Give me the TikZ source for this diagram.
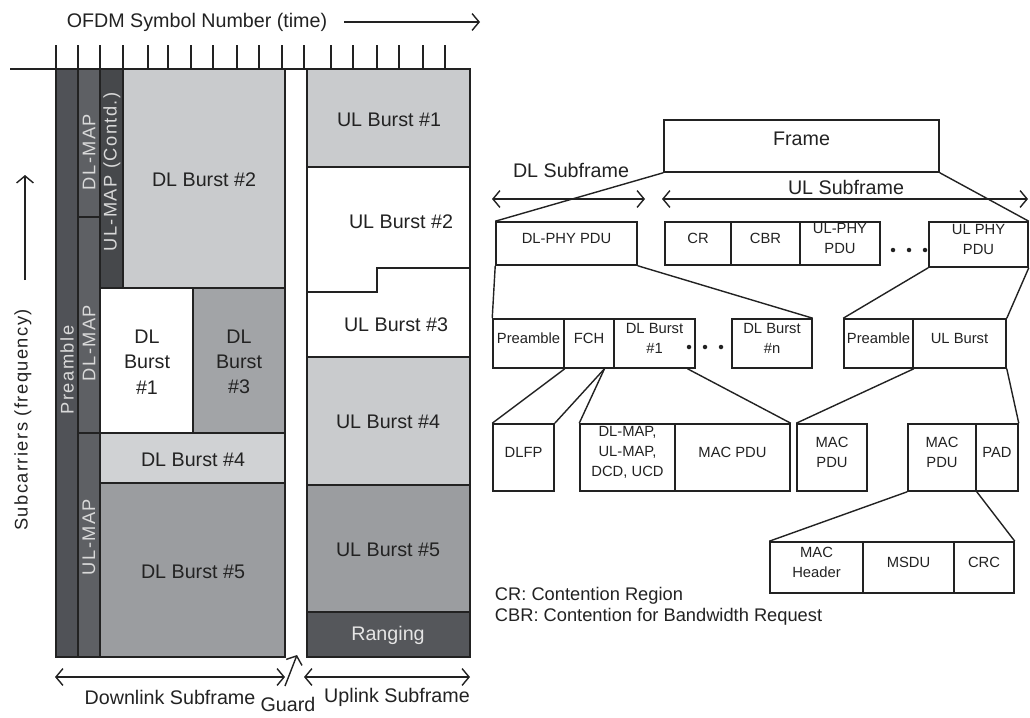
\documentclass[tikz,border=0pt]{standalone}
\usepackage{fontspec}
\setmainfont{Liberation Sans}
\newfontfamily\spacedfont{Liberation Sans}[LetterSpace=8]
\usepackage{tikz}
\usetikzlibrary{arrows.meta,positioning,fit,calc}

\definecolor{inkc}{HTML}{222222}
\definecolor{preamblec}{HTML}{505257}
\definecolor{dlmapc}{HTML}{5E6064}
\definecolor{contdc}{HTML}{46484B}
\definecolor{lightc}{HTML}{C9CBCD}
\definecolor{paler}{HTML}{D0D2D4}
\definecolor{midc}{HTML}{A2A4A7}
\definecolor{darkmidc}{HTML}{9B9DA0}
\definecolor{rangec}{HTML}{55575B}

\tikzset{
  lbl/.style={font=\fontsize{14}{18}\selectfont, text=inkc, align=center},
  collbl/.style={rotate=90, font=\spacedfont\fontsize{13}{15}\selectfont, text=white!85!black},
  pdu/.style={draw=inkc, line width=1.1pt, inner sep=0pt, align=center, text=inkc,
    font=\fontsize{10.5}{14}\selectfont},
  zone/.style={draw=inkc, line width=1.3pt},
  link/.style={draw=inkc, line width=1pt},
  arr/.style={link, -{Straight Barb[length=5pt,width=12pt]}},
  darr/.style={link, {Straight Barb[length=5pt,width=12pt]}-{Straight Barb[length=5pt,width=12pt]}},
}

\begin{document}
\begin{tikzpicture}[x=0.025cm, y=-0.025cm]
    \useasboundingbox (0,0) rectangle (1030,717);

    % time axis
    \node[lbl] (ofdm) at (197,22) {OFDM Symbol Number (time)};
    \coordinate (tend) at (480,22);
    \draw[arr] (ofdm.east) ++(12,0) -- (tend);
    \draw[zone] (10,69) -- (470,69);
    \foreach \x in {56,78,100,123,148,168,191,213,237,259,282,304,331,353,377,399,423,445}
        \draw[zone] (\x,45) -- (\x,69);

    % frequency axis
    \node[lbl, rotate=90, font=\spacedfont\fontsize{13}{15}\selectfont] (freq) at (23,420) {Subcarriers (frequency)};
    \coordinate (fbot) at (25,280);
    \coordinate (ftop) at (25,175);
    \draw[arr] (fbot) -- (ftop);

    % downlink subframe
    \draw[zone, fill=preamblec] (56,69) rectangle (78,657);
    \draw[zone, fill=dlmapc] (78,69) rectangle (100,217);
    \draw[zone, fill=dlmapc] (78,217) rectangle (100,433);
    \draw[zone, fill=dlmapc] (78,433) rectangle (100,657);
    \draw[zone, fill=contdc] (100,69) rectangle (123,288);
    \draw[zone, fill=lightc] (123,69) rectangle (285,288);
    \draw[zone, fill=white] (100,288) rectangle (193,433);
    \draw[zone, fill=midc] (193,288) rectangle (285,433);
    \draw[zone, fill=paler] (100,433) rectangle (285,483);
    \draw[zone, fill=darkmidc] (100,483) rectangle (285,657);

    \node[collbl] (pre) at (67,370) {Preamble};
    \node[collbl] (dlmapa) at (89,152) {DL-MAP};
    \node[collbl] (dlmapb) at (89,343) {DL-MAP};
    \node[collbl] (ulmap) at (89,537) {UL-MAP};
    \node[collbl] (ulmapc) at (112,172) {UL-MAP (Contd.)};
    \node[lbl] (dlb2) at (204,180) {DL Burst \#2};
    \node[lbl] (dlb1) at (147,362) {DL\\Burst\\\#1};
    \node[lbl] (dlb3) at (239,362) {DL\\Burst\\\#3};
    \node[lbl] (dlb4) at (193,460) {DL Burst \#4};
    \node[lbl] (dlb5) at (193,572) {DL Burst \#5};

    % uplink subframe
    \draw[zone, fill=white] (307,69) rectangle (470,657);
    \draw[zone, fill=lightc] (307,69) rectangle (470,167);
    \draw[zone] (307,292) -- (377,292) -- (377,268) -- (470,268);
    \draw[zone] (307,357) -- (470,357);
    \draw[zone, fill=lightc] (307,357) rectangle (470,485);
    \draw[zone, fill=darkmidc] (307,485) rectangle (470,612);
    \draw[zone, fill=rangec] (307,612) rectangle (470,657);

    \node[lbl] (ulb1) at (389,120) {UL Burst \#1};
    \node[lbl] (ulb2) at (401,222) {UL Burst \#2};
    \node[lbl] (ulb3) at (396,325) {UL Burst \#3};
    \node[lbl] (ulb4) at (388,422) {UL Burst \#4};
    \node[lbl] (ulb5) at (388,550) {UL Burst \#5};
    \node[lbl, text=white!90!black] (rng) at (388,635) {Ranging};

    % subframe arrows
    \coordinate (dla) at (55,677);
    \coordinate (dlz) at (285,677);
    \coordinate (ula) at (304,677);
    \coordinate (ulz) at (470,677);
    \coordinate (gap) at (297,655);
    \draw[darr] (dla) -- (dlz);
    \draw[darr] (ula) -- (ulz);
    \node[lbl] (dlsub) at (170,697) {Downlink Subframe};
    \node[lbl] (ulsub) at (397,697) {Uplink Subframe};
    \node[lbl] (guard) at (288,704) {Guard};
    \draw[arr] (285,686) -- (gap);

    % frame structure
    \node[pdu, font=\fontsize{14}{16}\selectfont, fit={(664,120) (939,172)}] (frame) {Frame};
    \node[lbl] (dlsf) at (571,170) {DL Subframe};
    \node[lbl] (ulsf) at (846,187) {UL Subframe};
    \coordinate (dlsfa) at (492,199);
    \coordinate (dlsfz) at (645,199);
    \coordinate (ulsfa) at (662,199);
    \coordinate (ulsfz) at (1028,199);
    \draw[darr] (dlsfa) -- (dlsfz);
    \draw[darr] (ulsfa) -- (ulsfz);

    \node[pdu, fit={(496,222) (637,265)}] (dlphy) {DL-PHY PDU};
    \node[pdu, fit={(665,222) (731,265)}] (cr) {CR};
    \node[pdu, fit={(731,222) (800,265)}] (cbr) {CBR};
    \node[pdu, fit={(800,222) (880,265)}] (ulphya) {UL-PHY\\PDU};
    \node[pdu, fit={(929,222) (1028,267)}] (ulphyb) {UL PHY\\PDU};
    \foreach \x in {893,909,925}
        \fill[inkc] (\x,250) circle (1.6pt);

    \node[pdu, fit={(493,319) (564,368)}] (prea) {Preamble};
    \node[pdu, fit={(564,319) (614,368)}] (fch) {FCH};
    \node[pdu, fit={(614,319) (695,368)}] (dlba) {DL Burst\\\#1};
    \node[pdu, fit={(732,319) (812,368)}] (dlbn) {DL Burst\\\#n};
    \node[pdu, fit={(844,319) (913,368)}] (preb) {Preamble};
    \node[pdu, fit={(913,319) (1006,368)}] (ulb) {UL Burst};
    \foreach \x in {689,705,721}
        \fill[inkc] (\x,347) circle (1.6pt);

    \node[pdu, fit={(493,424) (554,491)}] (dlfp) {DLFP};
    \node[pdu, fit={(580,424) (675,491)}] (maps) {DL-MAP,\\UL-MAP,\\DCD, UCD};
    \node[pdu, fit={(675,424) (790,491)}] (macpdua) {MAC PDU};
    \node[pdu, fit={(797,424) (867,491)}] (macpdub) {MAC\\PDU};
    \node[pdu, fit={(908,424) (976,491)}] (macpduc) {MAC\\PDU};
    \node[pdu, fit={(976,424) (1018,491)}] (pad) {PAD};

    \node[pdu, fit={(770,542) (863,593)}] (machdr) {MAC\\Header};
    \node[pdu, fit={(863,542) (954,593)}] (msdu) {MSDU};
    \node[pdu, fit={(954,542) (1014,593)}] (crc) {CRC};

    % expansion lines
    \draw[link] (frame.south west) -- (dlphy.north west);
    \draw[link] (frame.south east) -- (ulphyb.north east);
    \draw[link] (dlphy.south west) -- (prea.north west);
    \draw[link] (dlphy.south east) -- (dlbn.north east);
    \draw[link] (ulphyb.south west) -- (preb.north west);
    \draw[link] (ulphyb.south east) -- (ulb.north east);
    \draw[link] (prea.south east) -- (dlfp.north west);
    \draw[link] ($(fch.south west)!0.8!(fch.south east)$) -- (dlfp.north east);
    \draw[link] ($(fch.south west)!0.8!(fch.south east)$) -- (maps.north west);
    \draw[link] ($(dlba.south west)!0.9!(dlba.south east)$) -- (macpdua.north east);
    \draw[link] (preb.south east) -- (macpdub.north west);
    \draw[link] (ulb.south east) -- (pad.north east);
    \draw[link] (macpduc.south west) -- (machdr.north west);
    \draw[link] (macpduc.south east) -- (crc.north east);

    % key
    \node[lbl, anchor=west, font=\fontsize{13}{15}\selectfont] (crkey) at (490,596) {CR: Contention Region};
    \node[lbl, anchor=west, font=\fontsize{13}{15}\selectfont] (cbrkey) at (490,617) {CBR: Contention for Bandwidth Request};
\end{tikzpicture}
\end{document}
